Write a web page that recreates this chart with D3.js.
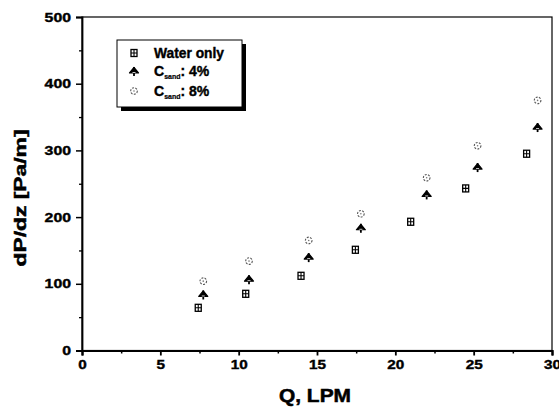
<!DOCTYPE html>
<html><head><meta charset="utf-8">
<script src="https://cdn.jsdelivr.net/npm/d3@7"></script>
<style>body{margin:0;background:#fff;} svg{display:block;}</style>
</head><body>
<script>
const flowWater = [7.42, 10.45, 13.98, 17.45, 20.98, 24.49, 28.38];
const dpWater   = [64, 85, 112, 151, 193, 243, 295];
const flowSand4 = [7.74, 10.66, 14.47, 17.8, 22.0, 25.25, 29.08];
const dpSand4   = [84, 107, 140, 184, 234, 275, 335];
const flowSand8 = [7.74, 10.66, 14.47, 17.8, 22.0, 25.25, 29.08];
const dpSand8   = [104, 134, 165, 205, 259, 307, 375];
const xTicks = [0, 5, 10, 15, 20, 25, 30];
const yTicks = [0, 100, 200, 300, 400, 500];
const legendLabels = ["Water only", "4%", "8%"];

const W = 559, H = 407;
const svg = d3.select("body").append("svg").attr("width", W).attr("height", H)
  .style("font-family", "'Liberation Sans', Arial, sans-serif");

const x = d3.scaleLinear().domain([0, 30]).range([82, 552]);
const y = d3.scaleLinear().domain([0, 500]).range([350.5, 17]);

// frame
svg.append("rect").attr("x", x(0)).attr("y", y(500)).attr("width", x(30) - x(0)).attr("height", y(0) - y(500))
  .attr("fill", "none").attr("stroke", "#000").attr("stroke-width", 1.2);

function boldText(sel) {
  sel.attr("font-weight", "bold").attr("fill", "#000").attr("stroke", "#000").attr("stroke-width", 0.4)
    .attr("font-family", "'Liberation Sans', Arial, sans-serif");
}

// X axis
const xAxis = d3.axisBottom(x).tickValues(xTicks).tickSize(5).tickPadding(4);
const gx = svg.append("g").attr("transform", `translate(0,${y(0)})`).call(xAxis);
gx.select(".domain").attr("stroke-width", 2.2);
gx.selectAll(".tick line").attr("stroke-width", 1.8);
gx.selectAll(".tick text").attr("font-size", 13).call(boldText)
  .each(function(d){ d3.select(this).attr("textLength", String(d).length * 8.5).attr("lengthAdjust", "spacingAndGlyphs"); });
const xMinor = d3.axisBottom(x).tickValues(d3.range(2.5, 30, 5)).tickSize(3).tickFormat("");
const gxm = svg.append("g").attr("transform", `translate(0,${y(0)})`).call(xMinor);
gxm.select(".domain").remove();
gxm.selectAll(".tick line").attr("stroke-width", 1.5);

// Y axis
const yAxis = d3.axisLeft(y).tickValues(yTicks).tickSize(6).tickPadding(5);
const gy = svg.append("g").attr("transform", `translate(${x(0)},0)`).call(yAxis);
gy.select(".domain").attr("stroke-width", 1.8);
gy.selectAll(".tick line").attr("stroke-width", 1.5);
gy.selectAll(".tick text").attr("font-size", 13).call(boldText)
  .each(function(d){ d3.select(this).attr("textLength", String(d).length * 8.8).attr("lengthAdjust", "spacingAndGlyphs"); });
const yMinor = d3.axisLeft(y).tickValues(d3.range(50, 500, 100)).tickSize(3).tickFormat("");
const gym = svg.append("g").attr("transform", `translate(${x(0)},0)`).call(yMinor);
gym.select(".domain").remove();
gym.selectAll(".tick line").attr("stroke-width", 1.3);

// Axis titles
svg.append("text").attr("x", (x(0) + x(30)) / 2 - 2).attr("y", 402).attr("text-anchor", "middle")
  .attr("font-size", 18).call(boldText).attr("stroke-width", 0.5).attr("textLength", 72).attr("lengthAdjust", "spacingAndGlyphs")
  .text("Q, LPM");
svg.append("text").attr("transform", "translate(26,198) rotate(-90)").attr("text-anchor", "middle")
  .attr("font-size", 17).call(boldText).attr("stroke-width", 0.5).attr("textLength", 137).attr("lengthAdjust", "spacingAndGlyphs")
  .text("dP/dz [Pa/m]");

// marker drawers
function drawSquare(g) {
  g.append("rect").attr("x", -3).attr("y", -3.5).attr("width", 6).attr("height", 7).attr("fill", "none").attr("stroke", "#000").attr("stroke-width", 1.3);
  g.append("path").attr("d", "M0,-3.5V3.5M-3,0H3").attr("stroke", "#000").attr("stroke-width", 1.1);
}
function drawArrow(g) {
  g.append("path").attr("d", "M-4.5,2L0,-3.5L4.5,2Z").attr("fill", "#000").attr("stroke", "#000").attr("stroke-width", 1.2).attr("stroke-linejoin", "round");
  g.append("path").attr("d", "M0,-4V5").attr("stroke", "#000").attr("stroke-width", 1.8);
  g.append("path").attr("d", "M-1.5,1.5L1.5,1.5").attr("stroke", "#fff").attr("stroke-width", 0.8);
}
function drawCircle(g) {
  g.append("circle").attr("r", 3.3).attr("fill", "none").attr("stroke", "#555").attr("stroke-width", 1.1).attr("stroke-dasharray", "2,1.3");
  g.append("circle").attr("r", 0.8).attr("fill", "#777");
}

function plotSeries(xs, ys, drawer) {
  const g = svg.append("g");
  xs.forEach((q, i) => {
    const m = g.append("g").attr("transform", `translate(${x(q)},${y(ys[i])})`);
    drawer(m);
  });
}
plotSeries(flowWater, dpWater, drawSquare);
plotSeries(flowSand4, dpSand4, drawArrow);
plotSeries(flowSand8, dpSand8, drawCircle);

// Legend
const lg = svg.append("g");
lg.append("rect").attr("x", 121).attr("y", 44).attr("width", 125).attr("height", 67).attr("fill", "#000");
lg.append("rect").attr("x", 117).attr("y", 40).attr("width", 125).attr("height", 67).attr("fill", "#fff").attr("stroke", "#000").attr("stroke-width", 1);
const rowsY = [53, 71, 91];
const drawers = [drawSquare, drawArrow, drawCircle];
rowsY.forEach((ry, i) => {
  drawers[i](lg.append("g").attr("transform", `translate(134,${ry})`));
});
lg.append("text").attr("x", 154).attr("y", 58).attr("font-size", 14).call(boldText)
  .attr("textLength", 70).attr("lengthAdjust", "spacingAndGlyphs").text(legendLabels[0]);
[1, 2].forEach(i => {
  const t = lg.append("text").attr("x", 154).attr("y", rowsY[i] + 5).attr("font-size", 14).call(boldText);
  t.append("tspan").text("C");
  t.append("tspan").attr("font-size", 7).attr("dy", 3).attr("stroke-width", 0.2).text("sand");
  t.append("tspan").attr("dy", -3).text(": " + legendLabels[i]);
});
</script>
</body></html>
